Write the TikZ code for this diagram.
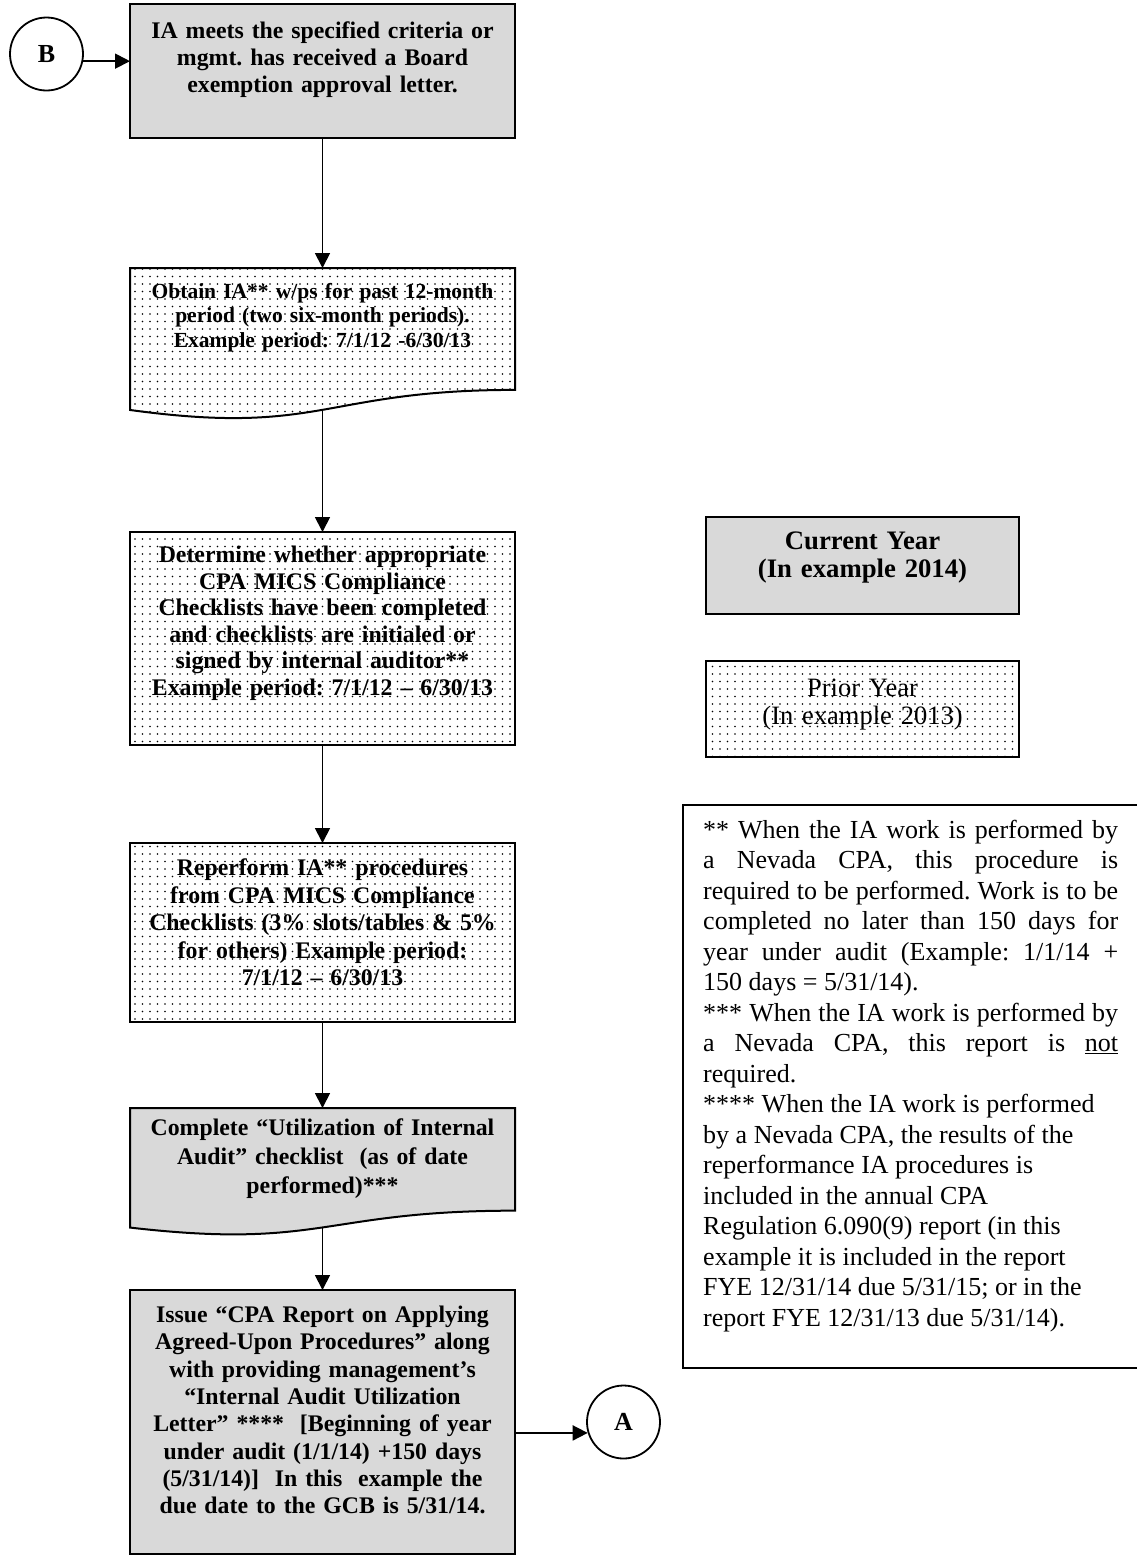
\documentclass[tikz,border=0pt]{standalone}
\usepackage{fontspec}
\setmainfont{Liberation Serif}
\usepackage{tikz}
\usetikzlibrary{arrows.meta}
\usetikzlibrary{patterns,patterns.meta}
\frenchspacing
\definecolor{boxgray}{RGB}{217,217,217}
\newcommand{\flowfont}{\bfseries\fontsize{23.8}{27}\selectfont}
\tikzstyle{procbox}=[draw, line width=2pt, inner sep=0, outer sep=0, minimum width=385pt]
\tikzstyle{graybox}=[fill=boxgray]
\tikzstyle{dotbox}=[pattern={Dots[distance=7.5pt, radius=0.8pt]}]
\tikzstyle{docarea}=[inner sep=0, outer sep=0, minimum width=385pt]
\tikzstyle{connector}=[draw, circle, line width=1.8pt, minimum size=73pt, inner sep=0,
                       font=\bfseries\fontsize{26}{30}\selectfont]
\tikzstyle{flowtext}=[anchor=base, text width=380pt, align=center, inner sep=0, font=\flowfont]
\tikzstyle{notetext}=[anchor=base west, text width=415pt, align=justify, inner sep=0,
                      font=\fontsize{26}{30.5}\selectfont]
\tikzstyle{arrow}=[line width=1.8pt, -{Triangle[length=15pt, width=15pt]}]
% document symbol: style, left, right, top, height
\newcommand{\docshape}[5]{%
  \path[#1] (#2,#4) -- (#3,#4) -- (#3,{#4+0.802*#5})
    .. controls ({(#2+#3)/2},{#4+0.802*#5}) and ({(#2+#3)/2},{#4+1.1075*#5}) .. (#2,{#4+0.934*#5}) -- cycle;}

\begin{document}
\begin{tikzpicture}[x=1pt, y=-1pt]
    \path[use as bounding box, fill=white] (0,0) rectangle (1136,1559);
    % flow
    \node[procbox, graybox, minimum height=134pt] (S1) at (322.5,71) {};
    \docshape{draw, line width=2pt, dotbox}{130}{515}{268}{152}
    \node[docarea, minimum height=152pt] (S2) at (322.5,344) {};
    \coordinate (S2out) at (322.5,410);
    \node[procbox, dotbox, minimum height=213pt] (S3) at (322.5,638.5) {};
    \node[procbox, dotbox, minimum height=179pt] (S4) at (322.5,932.5) {};
    \docshape{draw, line width=2pt, fill=boxgray}{130}{515}{1108}{128}
    \node[docarea, minimum height=128pt] (S5) at (322.5,1172) {};
    \coordinate (S5out) at (322.5,1227.5);
    \node[procbox, graybox, minimum height=264pt] (S6) at (322.5,1422) {};
    \node[connector] (B) at (46.5,54) {B};
    \node[connector] (A) at (623.5,1422) {A};

    \node[flowtext] (T1) at (322.5,38.5) {IA meets the specified criteria or\\ mgmt. has received a Board\\ exemption approval letter.};
    \node[flowtext, font=\bfseries\fontsize{21.5}{24.5}\selectfont] (T2) at (322.5,298)
        {Obtain IA** w/ps for past 12-month\\ period (two six-month periods).\\ Example period: 7/1/12 -6/30/13};
    \node[flowtext, font=\bfseries\fontsize{23.8}{26.6}\selectfont] (T3) at (322.5,562.5)
        {Determine whether appropriate\\ CPA MICS Compliance\\ Checklists have been completed\\ and checklists are initialed or\\ signed by internal auditor**\\ Example period: 7/1/12 -- 6/30/13};
    \node[flowtext, font=\bfseries\fontsize{23.8}{27.5}\selectfont] (T4) at (322.5,875.5)
        {Reperform IA** procedures\\ from CPA MICS Compliance\\ Checklists (3\% slots/tables \& 5\%\\ for others) Example period:\\ 7/1/12 -- 6/30/13};
    \node[flowtext, font=\bfseries\fontsize{23.8}{29}\selectfont] (T5) at (322.5,1135.5)
        {Complete “Utilization of Internal\\ Audit” checklist\ \ (as of date\\ performed)***};
    \node[flowtext, font=\bfseries\fontsize{23.8}{27.3}\selectfont] (T6) at (322.5,1322.5)
        {Issue “CPA Report on Applying\\ Agreed-Upon Procedures” along\\ with providing management’s\\ “Internal Audit Utilization\\ Letter” ****\ \ [Beginning of year\\ under audit (1/1/14) +150 days\\ (5/31/14)]\ \ In this\ \ example the\\ due date to the GCB is 5/31/14.};

    % legend
    \node[procbox, graybox, minimum width=313pt, minimum height=97pt] (CY) at (862.5,565.5) {};
    \node[procbox, dotbox, minimum width=313pt, minimum height=96pt] (PY) at (862.5,709) {};
    \node[flowtext, text width=300pt, font=\bfseries\fontsize{26.7}{28.5}\selectfont] (CYT) at (862.5,549)
        {Current Year\\ (In example 2014)};
    \node[flowtext, text width=300pt, font=\fontsize{26.5}{28}\selectfont] (PYT) at (862.5,696)
        {Prior Year\\ (In example 2013)};

    % notes
    \node[procbox, anchor=north west, minimum width=470pt, minimum height=563pt] (note) at (683,805) {};
    \node[notetext] (NT) at (703,838) {** When the IA work is performed by\linebreak
        a Nevada CPA, this procedure is\linebreak
        required to be performed. Work is to be\linebreak
        completed no later than 150 days for\linebreak
        year under audit (Example: 1/1/14 +\linebreak
        150 days = 5/31/14).\\{}%
        *** When the IA work is performed by\linebreak
        a Nevada CPA, this report is \underline{not}\linebreak
        required.\\{}%
        **** When the IA work is performed\\
        by a Nevada CPA, the results of the\\
        reperformance IA procedures is\\
        included in the annual CPA\\
        Regulation 6.090(9) report (in this\\
        example it is included in the report\\
        FYE 12/31/14 due 5/31/15; or in the\\
        report FYE 12/31/13 due 5/31/14).};

    \draw[arrow] (B.-11) -- (B.-11 -| S1.west);
    \draw[arrow] (S1.south) -- (S2.north);
    \draw[arrow] (S2out) -- (S3.north);
    \draw[arrow] (S3.south) -- (S4.north);
    \draw[arrow] (S4.south) -- (S5.north);
    \draw[arrow] (S5out) -- (S6.north);
    \draw[arrow] (S6.east |- A.197) -- (A.197);
\end{tikzpicture}
\end{document}
